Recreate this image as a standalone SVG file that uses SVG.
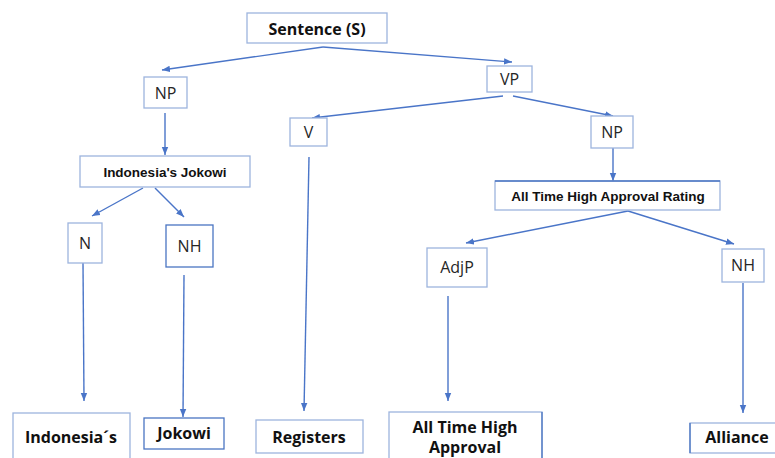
<svg xmlns="http://www.w3.org/2000/svg" width="775" height="458" viewBox="0 0 775 458">
  <style>
    .box { fill: #ffffff; stroke: #9db4de; stroke-width: 1.3; }
    .box.dark { stroke: #4a75c2; }
    .lbl { font-family: "Open Sans", "Noto Sans", sans-serif; font-size: 16px; fill: #262626; text-anchor: middle; }
    .big { font-family: "Open Sans", "Noto Sans", sans-serif; font-size: 16px; font-weight: bold; fill: #111111; text-anchor: middle; }
    .small { font-family: "Liberation Sans", Arial, sans-serif; font-size: 13.5px; font-weight: bold; fill: #111111; text-anchor: middle; }
    .edge { stroke: #4a75c8; stroke-width: 1.4; fill: none; marker-end: url(#arrow); }
  </style>
  <defs>
    <marker id="arrow" markerUnits="userSpaceOnUse" markerWidth="9" markerHeight="8" refX="8" refY="4" orient="auto">
      <path d="M0,0.8 L8,4 L0,7.2 Z" fill="#4a75c8"/>
    </marker>
  </defs>
  <rect width="775" height="458" fill="#ffffff"/>

  <g id="connectors">
    <line class="edge" x1="323" y1="47" x2="162" y2="70"/>
    <line class="edge" x1="323" y1="47" x2="512" y2="62"/>
    <line class="edge" x1="503" y1="96" x2="312" y2="118"/>
    <line class="edge" x1="513" y1="96" x2="613" y2="116"/>
    <line class="edge" x1="165" y1="113" x2="165" y2="155"/>
    <line class="edge" x1="613" y1="148" x2="613" y2="181"/>
    <line class="edge" x1="143" y1="188" x2="92" y2="216"/>
    <line class="edge" x1="155" y1="188" x2="184" y2="217"/>
    <line class="edge" x1="628" y1="211" x2="466" y2="243"/>
    <line class="edge" x1="628" y1="211" x2="734" y2="244"/>
    <line class="edge" x1="83" y1="263" x2="84" y2="401"/>
    <line class="edge" x1="184" y1="275" x2="183" y2="417"/>
    <line class="edge" x1="309" y1="157" x2="304" y2="411"/>
    <line class="edge" x1="448" y1="296" x2="448" y2="401"/>
    <line class="edge" x1="743" y1="283" x2="743" y2="413"/>
  </g>

  <g id="sentence">
    <rect class="box" x="247" y="13" width="140" height="30"/>
    <text class="big" x="317" y="35">Sentence (S)</text>
  </g>
  <g id="np-subject">
    <rect class="box" x="144" y="77" width="43" height="31"/>
    <text class="lbl" x="165.5" y="99">NP</text>
  </g>
  <g id="vp">
    <rect class="box" x="487" y="66" width="45" height="26"/>
    <text class="lbl" x="509.5" y="85">VP</text>
  </g>
  <g id="indonesias-jokowi">
    <rect class="box" x="80" y="156" width="170" height="31"/>
    <text class="small" x="165" y="176.5">Indonesia's Jokowi</text>
  </g>
  <g id="v">
    <rect class="box" x="290" y="118" width="37" height="28"/>
    <text class="lbl" x="308.5" y="138">V</text>
  </g>
  <g id="np-object">
    <rect class="box" x="591" y="116" width="42" height="32"/>
    <text class="lbl" x="612" y="138">NP</text>
  </g>
  <g id="approval-rating">
    <rect class="box" x="495" y="181" width="225" height="29"/>
    <line x1="495" y1="181" x2="720" y2="181" stroke="#4a75c2" stroke-width="1.3"/>
    <text class="small" x="608" y="200.5">All Time High Approval Rating</text>
  </g>
  <g id="n">
    <rect class="box" x="68" y="223" width="34" height="40"/>
    <text class="lbl" x="85" y="249">N</text>
  </g>
  <g id="nh-left">
    <rect class="box dark" x="166" y="225" width="47" height="42"/>
    <text class="lbl" x="189.5" y="252">NH</text>
  </g>
  <g id="adjp">
    <rect class="box" x="427" y="248" width="60" height="39"/>
    <text class="lbl" x="457" y="273">AdjP</text>
  </g>
  <g id="nh-right">
    <rect class="box" x="722" y="249" width="42" height="33"/>
    <text class="lbl" x="743" y="271">NH</text>
  </g>
  <g id="leaf-indonesias">
    <rect class="box" x="13" y="413" width="117" height="50"/>
    <text class="big" x="71" y="443">Indonesia´s</text>
  </g>
  <g id="leaf-jokowi">
    <rect class="box dark" x="144" y="418" width="80" height="31"/>
    <text class="big" x="184" y="439">Jokowi</text>
  </g>
  <g id="leaf-registers">
    <rect class="box" x="256" y="420" width="107" height="33"/>
    <text class="big" x="309" y="443">Registers</text>
  </g>
  <g id="leaf-all-time-high-approval">
    <rect class="box" x="389" y="412" width="153" height="52"/>
    <line x1="542" y1="412" x2="542" y2="458" stroke="#4a75c2" stroke-width="1.3"/>
    <text class="big" x="465" y="433">All Time High</text>
    <text class="big" x="465" y="453">Approval</text>
  </g>
  <g id="leaf-alliance">
    <rect class="box" x="690" y="423" width="95" height="30"/>
    <line x1="690" y1="423" x2="690" y2="453" stroke="#4a75c2" stroke-width="1.3"/>
    <text class="big" x="737" y="443">Alliance</text>
  </g>
</svg>
